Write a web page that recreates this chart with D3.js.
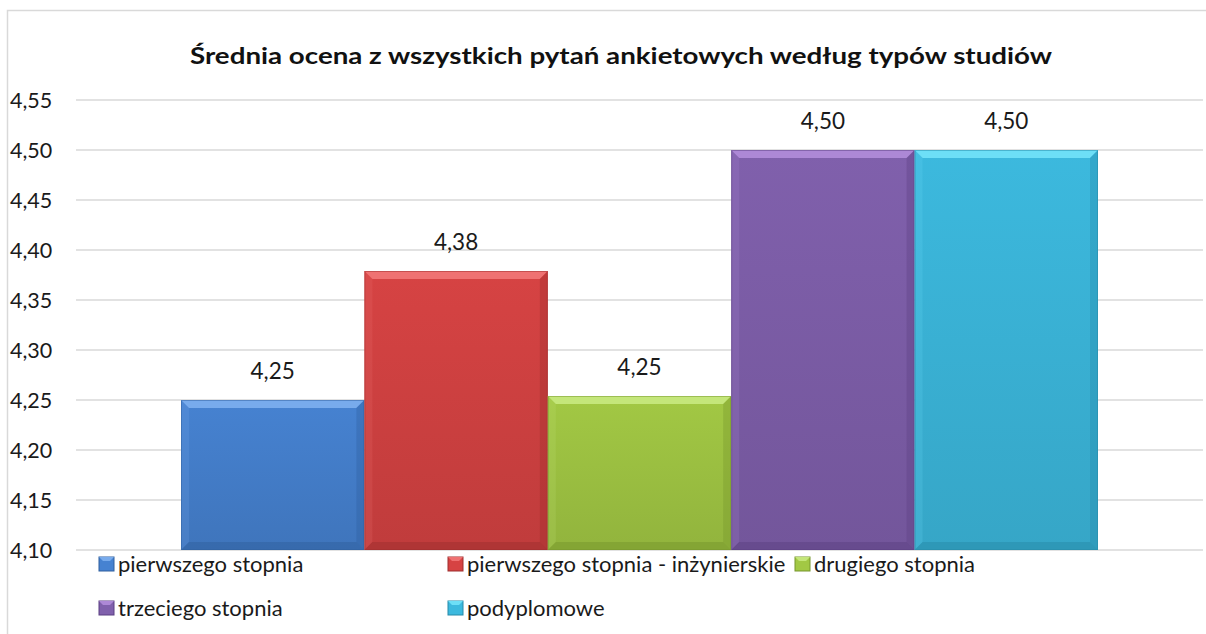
<!DOCTYPE html>
<html>
<head>
<meta charset="utf-8">
<script src="https://cdn.jsdelivr.net/npm/d3@7"></script>
<style>
  body { margin: 0; background: #fff; }
  svg { display: block; font-family: Lato, "Noto Sans", sans-serif; }
</style>
</head>
<body>
<svg width="1206" height="634"></svg>
<script>
var title = "Średnia ocena z wszystkich pytań ankietowych według typów studiów";
var seriesNames = ["pierwszego stopnia", "pierwszego stopnia - inżynierskie", "drugiego stopnia", "trzeciego stopnia", "podyplomowe"];
var seriesValues = [4.25, 4.379, 4.254, 4.50, 4.50];
var tickValues = [4.10, 4.15, 4.20, 4.25, 4.30, 4.35, 4.40, 4.45, 4.50, 4.55];
var colors = ["#4682d1", "#d64343", "#a2c844", "#8060ac", "#3cb9de"];
var lightColors = ["#78abec", "#ef7272", "#c4e67a", "#ad88d6", "#6ddff7"];
var darkColors = ["#2f5f9e", "#9e2e2e", "#76962c", "#5b3f82", "#268aa8"];

var svg = d3.select("svg");
var fmt = function (v) { return d3.format(".2f")(v).replace(".", ","); };

// chart frame
svg.append("rect")
  .attr("x", 7.5).attr("y", 10.5)
  .attr("width", 1210).attr("height", 640)
  .attr("fill", "none").attr("stroke", "#d9d9d9").attr("stroke-width", 1.5);

var plot = { left: 76, right: 1203, top: 100, bottom: 550 };

var y = d3.scaleLinear().domain([4.10, 4.55]).range([plot.bottom, plot.top]);
var x = d3.scaleBand().domain(seriesNames)
  .range([181, 1098]).padding(0);

// gridlines
svg.append("g").selectAll("line")
  .data(tickValues)
  .join("line")
  .attr("x1", plot.left).attr("x2", plot.right)
  .attr("y1", d => y(d)).attr("y2", d => y(d))
  .attr("stroke", "#d9d9d9").attr("stroke-width", 1.5);

// y axis labels
svg.append("g").selectAll("text")
  .data(tickValues)
  .join("text")
  .attr("x", 10)
  .attr("y", d => y(d))
  .attr("dy", "0.35em")
  .attr("font-size", 21.5)
  .attr("fill", "#1a1a1a")
  .text(d => fmt(d));

// bevel gradients
var defs = svg.append("defs");
seriesNames.forEach(function (s, i) {
  var g = defs.append("linearGradient").attr("id", "g" + i)
    .attr("x1", 0).attr("y1", 0).attr("x2", 0).attr("y2", 1);
  g.append("stop").attr("offset", "0%").attr("stop-color", colors[i]);
  g.append("stop").attr("offset", "100%").attr("stop-color", d3.color(colors[i]).darker(0.3));
});

var bevel = 8;
var bars = svg.append("g").selectAll("g")
  .data(seriesNames)
  .join("g");

bars.append("rect")
  .attr("x", d => x(d))
  .attr("y", (d, i) => y(seriesValues[i]))
  .attr("width", x.bandwidth())
  .attr("height", (d, i) => y(4.10) - y(seriesValues[i]))
  .attr("fill", (d, i) => "url(#g" + i + ")");

// top bevel
bars.append("polygon")
  .attr("points", function (d, i) {
    var x0 = x(d), x1 = x(d) + x.bandwidth(), t = y(seriesValues[i]);
    return [[x0, t], [x1, t], [x1 - bevel, t + bevel], [x0 + bevel, t + bevel]].join(" ");
  })
  .attr("fill", (d, i) => lightColors[i]);

// left bevel
bars.append("polygon")
  .attr("points", function (d, i) {
    var x0 = x(d), t = y(seriesValues[i]), b = y(4.10);
    return [[x0, t], [x0 + bevel, t + bevel], [x0 + bevel, b - bevel], [x0, b]].join(" ");
  })
  .attr("fill", (d, i) => lightColors[i])
  .attr("opacity", 0.18);

// right bevel
bars.append("polygon")
  .attr("points", function (d, i) {
    var x1 = x(d) + x.bandwidth(), t = y(seriesValues[i]), b = y(4.10);
    return [[x1, t], [x1 - bevel, t + bevel], [x1 - bevel, b - bevel], [x1, b]].join(" ");
  })
  .attr("fill", (d, i) => darkColors[i])
  .attr("opacity", 0.35);

// bottom bevel
bars.append("polygon")
  .attr("points", function (d, i) {
    var x0 = x(d), x1 = x(d) + x.bandwidth(), b = y(4.10);
    return [[x0, b], [x1, b], [x1 - bevel, b - bevel], [x0 + bevel, b - bevel]].join(" ");
  })
  .attr("fill", (d, i) => darkColors[i])
  .attr("opacity", 0.5);

// thin edge outline
bars.append("rect")
  .attr("x", d => x(d) + 0.5)
  .attr("y", (d, i) => y(seriesValues[i]) + 0.5)
  .attr("width", x.bandwidth() - 1)
  .attr("height", (d, i) => y(4.10) - y(seriesValues[i]) - 1)
  .attr("fill", "none")
  .attr("stroke", (d, i) => darkColors[i])
  .attr("stroke-opacity", 0.5);

// value labels
bars.append("text")
  .attr("x", d => x(d) + x.bandwidth() / 2)
  .attr("y", (d, i) => y(seriesValues[i]) - 29)
  .attr("dy", "0.35em")
  .attr("text-anchor", "middle")
  .attr("font-size", 22.5)
  .attr("fill", "#1a1a1a")
  .text((d, i) => fmt(Math.round(seriesValues[i] * 100) / 100));

// title
svg.append("text")
  .attr("x", 621).attr("y", 56)
  .attr("dy", "0.35em")
  .attr("text-anchor", "middle")
  .attr("font-size", 23)
  .attr("font-weight", "bold")
  .attr("fill", "#111")
  .attr("textLength", 862)
  .attr("lengthAdjust", "spacingAndGlyphs")
  .text(title);

// legend
var legendPos = [[99, 564], [448, 564], [795, 564], [99, 608], [448, 608]];
var legend = svg.append("g").selectAll("g")
  .data(seriesNames)
  .join("g")
  .attr("transform", (d, i) => "translate(" + legendPos[i][0] + "," + legendPos[i][1] + ")");

legend.append("rect")
  .attr("x", 0).attr("y", -7)
  .attr("width", 15).attr("height", 14)
  .attr("fill", (d, i) => colors[i])
  .attr("stroke", (d, i) => darkColors[i]).attr("stroke-width", 1);
legend.append("polygon")
  .attr("points", "0,-7 15,-7 11,-3 4,-3")
  .attr("fill", (d, i) => lightColors[i]);

legend.append("text")
  .attr("x", 19).attr("y", 0)
  .attr("dy", "0.35em")
  .attr("font-size", 22)
  .attr("fill", "#1a1a1a")
  .text(d => d);
</script>
</body>
</html>
